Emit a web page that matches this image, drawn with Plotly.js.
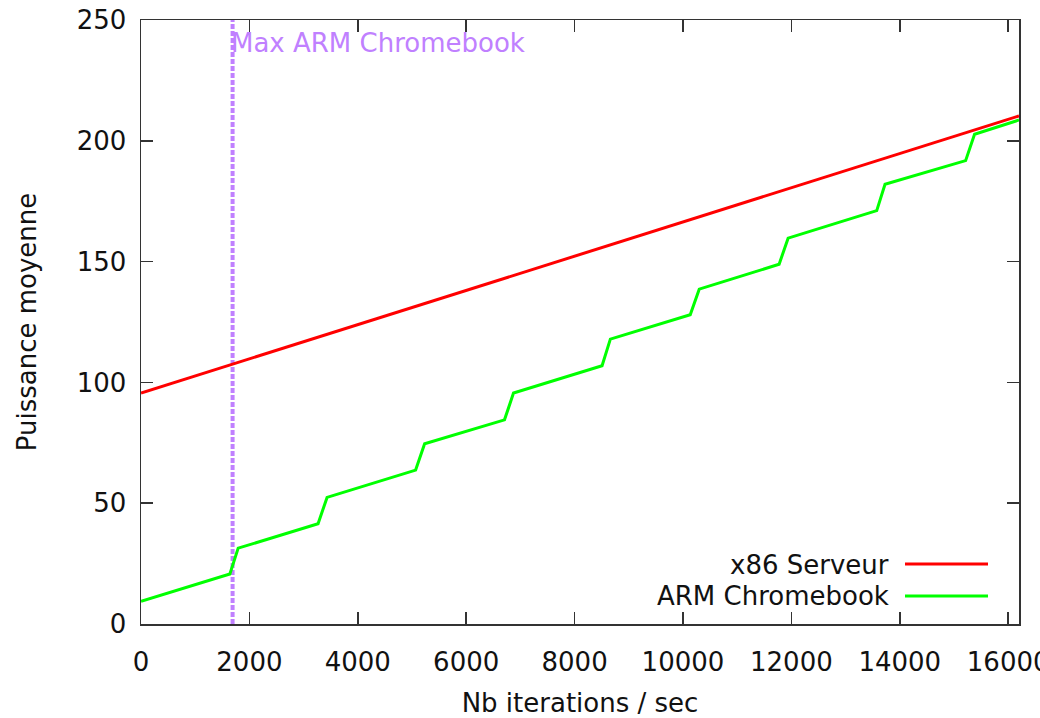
<!DOCTYPE html>
<html>
<head>
<meta charset="utf-8">
<script src="https://cdn.plot.ly/plotly-3.0.1.min.js"></script>
<style>html,body{margin:0;padding:0;background:#fff;overflow:hidden;}#chart{width:1040px;height:718px;}</style>
</head>
<body>
<div id="chart"></div>
<script>
// Data
const serverX = [0, 8000, 16200];
const serverY = [95.6, 152.4, 210.3];

const armX = [0, 1640, 1793, 3267, 3433, 5067, 5233, 6707, 6873, 8507, 8660, 10134, 10300, 11774, 11940, 13575, 13728, 15215, 15380, 16200];
const armY = [9.4, 20.7, 31.4, 41.5, 52.4, 63.7, 74.6, 84.5, 95.6, 106.9, 117.9, 128.0, 138.6, 148.9, 159.7, 171.1, 182.0, 191.8, 202.7, 208.6];

const maxArmX = 1690;
const maxArmLabel = 'Max ARM Chromebook';
const seriesNames = ['x86 Serveur', 'ARM Chromebook'];
const xTitle = 'Nb iterations / sec';
const yTitle = 'Puissance moyenne';
const xRange = [0, 16200];
const yRange = [0, 250];

const FONT = 'DejaVu Sans, Liberation Sans, sans-serif';
const purple = '#c080ff';

const traces = [
  {x: [maxArmX, maxArmX], y: yRange, mode: 'lines', line: {color: purple, width: 4, dash: '5px,2px'}, showlegend: false, hoverinfo: 'skip'},
  {x: serverX, y: serverY, mode: 'lines', name: seriesNames[0], line: {color: '#ff0000', width: 3}},
  {x: armX, y: armY, mode: 'lines', name: seriesNames[1], line: {color: '#00ff00', width: 3}}
];

const layout = {
  width: 1040, height: 718,
  margin: {l: 141, r: 21, t: 20, b: 94},
  paper_bgcolor: '#ffffff', plot_bgcolor: '#ffffff',
  showlegend: false,
  font: {family: FONT, size: 26, color: '#111'},
  xaxis: {
    range: xRange, dtick: 2000, tick0: 0, tickformat: 'd',
    ticks: 'inside', ticklen: 12, tickwidth: 1.5, tickcolor: '#333',
    showline: true, linecolor: '#333', linewidth: 1.5, mirror: 'ticks',
    showgrid: false, zeroline: false,
    ticklabelstandoff: 14, ticklabeloverflow: 'allow',
    tickfont: {family: FONT, size: 26, color: '#111'},
    title: {text: xTitle, font: {family: FONT, size: 26, color: '#111'}, standoff: 18}
  },
  yaxis: {
    range: yRange, dtick: 50, tick0: 0,
    ticks: 'inside', ticklen: 12, tickwidth: 1.5, tickcolor: '#333',
    showline: true, linecolor: '#333', linewidth: 1.5, mirror: 'ticks',
    showgrid: false, zeroline: false,
    ticklabelstandoff: 8,
    tickfont: {family: FONT, size: 26, color: '#111'},
    title: {text: yTitle, font: {family: FONT, size: 26, color: '#111'}, standoff: 32}
  },
  annotations: [
    {x: maxArmX, y: 240.5, xref: 'x', yref: 'y', text: maxArmLabel, showarrow: false, xshift: -4,
     xanchor: 'left', yanchor: 'middle', font: {family: FONT, size: 26, color: purple}},
    {x: 0, y: 0, xref: 'paper', yref: 'paper', text: seriesNames[0], showarrow: false,
     xanchor: 'right', yanchor: 'middle', font: {family: FONT, size: 26, color: '#111'}},
    {x: 0, y: 0, xref: 'paper', yref: 'paper', text: seriesNames[1], showarrow: false,
     xanchor: 'right', yanchor: 'middle', font: {family: FONT, size: 26, color: '#111'}}
  ],
  shapes: []
};

// convert legend pixel positions to paper coords
function px2paperX(px){ return (px - layout.margin.l) / (layout.width - layout.margin.l - layout.margin.r); }
function px2paperY(py){ return 1 - (py - layout.margin.t) / (layout.height - layout.margin.t - layout.margin.b); }
layout.annotations[1].x = px2paperX(891); layout.annotations[1].y = px2paperY(565);
layout.annotations[2].x = px2paperX(891); layout.annotations[2].y = px2paperY(596);
layout.shapes.push({type: 'line', xref: 'paper', yref: 'paper', x0: px2paperX(905), x1: px2paperX(988), y0: px2paperY(564), y1: px2paperY(564), line: {color: '#ff0000', width: 3}});
layout.shapes.push({type: 'line', xref: 'paper', yref: 'paper', x0: px2paperX(905), x1: px2paperX(988), y0: px2paperY(596), y1: px2paperY(596), line: {color: '#00ff00', width: 3}});

Plotly.newPlot('chart', traces, layout, {displayModeBar: false, staticPlot: true});
</script>
</body>
</html>
